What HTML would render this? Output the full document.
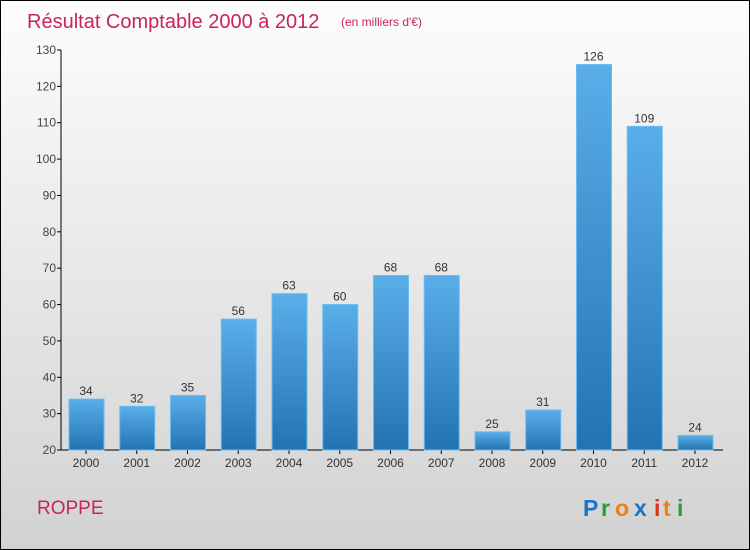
<!DOCTYPE html>
<html><head><meta charset="utf-8"><style>
body{margin:0}
#c{width:748px;height:548px;border:1px solid #000;background:linear-gradient(#fdfdfd,#d2d2d2);position:relative;font-family:"Liberation Sans",sans-serif;overflow:hidden}
</style></head><body>
<div id="c">
<svg width="748" height="548" id="s">
<defs><linearGradient id="g" x1="0" y1="0" x2="0" y2="1"><stop offset="0" stop-color="#5aaee9"/><stop offset="1" stop-color="#2373b3"/></linearGradient></defs>
<text x="26" y="27" font-size="20" fill="#c8245a">Résultat Comptable 2000 à 2012</text>
<text x="340" y="25" font-size="12" fill="#c8245a">(en milliers d'€)</text>
<text x="36" y="513" font-size="19" fill="#c8245a">ROPPE</text>
<g font-size="23" font-weight="bold">
<text x="582" y="515" fill="#1a73c9">P</text><text x="600" y="515" fill="#2a9a3a">r</text><text x="614" y="515" fill="#f08010">o</text><text x="633" y="515" fill="#1a73c9">x</text><text x="653" y="515" fill="#e03020">i</text><text x="662" y="515" fill="#f08010">t</text><text x="676" y="515" fill="#2a9a3a">i</text></g>
<g id="plot"></g>
</svg></div>
<script>
const categories=["2000","2001","2002","2003","2004","2005","2006","2007","2008","2009","2010","2011","2012"];
const values=[34,32,35,56,63,60,68,68,25,31,126,109,24];
const ticks=[20,30,40,50,60,70,80,90,100,110,120,130];
const ns="http://www.w3.org/2000/svg",p=document.getElementById('plot');
const y=v=>449-(v-20)*400/110, x=i=>85+i*50.75;
function mk(t,a,txt){const e=document.createElementNS(ns,t);for(const k in a)e.setAttribute(k,a[k]);if(txt!=null)e.textContent=txt;p.appendChild(e);return e;}
let e=mk('line',{x1:60,y1:y(130),x2:60,y2:449,stroke:'#000'});


e=mk('line',{x1:60,y1:449,x2:722,y2:449,stroke:'#000'});


ticks.forEach(t=>{
 let l=mk('line',{x1:56,x2:60,y1:y(t),y2:y(t),stroke:'#000'});
 
 
 let tx=mk('text',{x:55,y:y(t)+4,'font-size':12,fill:'#444','text-anchor':'end'},t);
 
 
});
categories.forEach((c,i)=>{
 const cx=x(i);
 let tk=mk('line',{x1:cx,x2:cx,y1:449,y2:453,stroke:'#000'});
 
 
 let r=mk('rect',{x:cx-17,y:y(values[i]),width:35,height:449-y(values[i]),fill:'url(#g)',stroke:'#6cbcf0','stroke-width':1});
 
 
 let v=mk('text',{x:cx,y:y(values[i])-4,'font-size':12,fill:'#333','text-anchor':'middle'},values[i]);
 
 
 let t=mk('text',{x:cx,y:466,'font-size':12,fill:'#333','text-anchor':'middle'},c);
 
 
});
</script>
</body></html>
